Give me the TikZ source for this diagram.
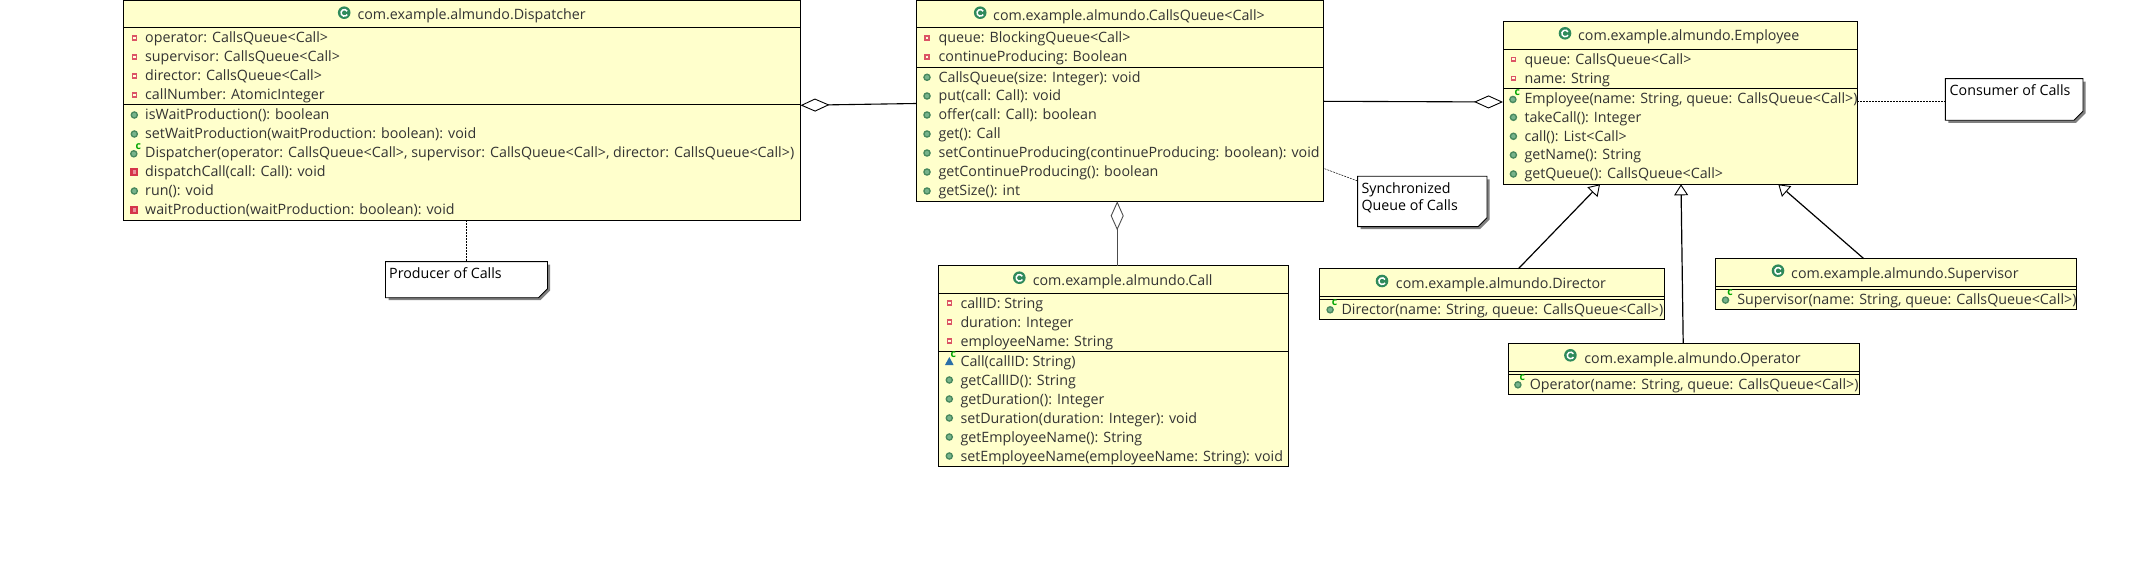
\documentclass[tikz,border=0pt]{standalone}
\usepackage{fontspec}
\usetikzlibrary{arrows.meta}
\setmainfont{Open Sans}
\definecolor{boxfill}{HTML}{FFFFCC}
\definecolor{txt}{HTML}{333333}
\definecolor{pubgreen}{HTML}{55A06E}
\definecolor{classgreen}{HTML}{2F8A5B}
\definecolor{privred}{HTML}{D5364A}
\definecolor{pkgblue}{HTML}{2A6FA8}
\newcommand\fs{\fontsize{14.25}{17}\selectfont}
\newcounter{tn}
\tikzset{
  x=1pt,y=-1pt,
  classbox/.style={draw=black,fill=boxfill,line width=1pt,anchor=north west,inner sep=0pt,outer sep=0pt},
  notebox/.style={anchor=north west,inner sep=0pt,outer sep=0pt},
  rowtext/.style={anchor=base west,inner sep=0pt,text=txt,font=\fs,yshift=-5pt},
  titletext/.style={anchor=base,inner sep=0pt,text=txt,font=\fs,yshift=-5pt},
  notetext/.style={anchor=base west,inner sep=0pt,text=black,font=\fs,yshift=-5pt},
  sep/.style={draw=black,line width=1pt},
  aggr/.style={draw=black,line width=1.1pt,{Diamond[open,fill=white,length=29pt,width=13pt,line width=.9pt]}-},
  aggrv/.style={draw=black!70,line width=1pt,{Diamond[open,fill=white,length=29pt,width=13pt,line width=.9pt]}-},
  inherit/.style={draw=black,line width=1.2pt,-{Triangle[open,fill=white,length=11pt,width=14pt,line width=.9pt]}},
  notelink/.style={draw=black,line width=.5pt,dash pattern=on 2pt off 1pt},
}
% name, x1,y1,x2,y2
\newcommand\UmlBox[5]{%
  \pgfmathsetmacro\bw{#4-#2}\pgfmathsetmacro\bh{#5-#3}%
  \node[classbox,minimum width=\bw pt,minimum height=\bh pt] (#1) at (#2,#3) {};}
\newcommand\NoteBox[5]{%
  \pgfmathsetmacro\bw{#4-#2}\pgfmathsetmacro\bh{#5-#3}%
  \fill[black!50] (#2+3,#3+3) -- (#4+2.5,#3+3) -- (#4+2.5,#5-7) -- (#4-7,#5+2.5) -- (#2+3,#5+2.5) -- cycle;
  \draw[fill=white,line width=.9pt] (#2,#3) -- (#4,#3) -- (#4,#5-9) -- (#4-9,#5) -- (#2,#5) -- cycle;
  \node[notebox,minimum width=\bw pt,minimum height=\bh pt] (#1) at (#2,#3) {};}
\newcommand\TextAt[4][rowtext]{\stepcounter{tn}\node[#1] (t\arabic{tn}) at (#2,#3) {#4};}
% icon x, text x, y, text
\newcommand\FieldRow[4]{%
  \fill[privred!85] (#1-2.6,#3-2.6) rectangle (#1+2.6,#3+2.6);
  \fill[boxfill!70!white] (#1-1.2,#3-1.2) rectangle (#1+1.2,#3+1.2);
  \TextAt{#2}{#3}{#4}}
\newcommand\PubRow[4]{%
  \fill[pubgreen!85!black] (#1,#3) circle[radius=3.8pt];
  \fill[pubgreen!80!white] (#1,#3) circle[radius=2.2pt];
  \TextAt{#2}{#3}{#4}}
\newcommand\PrivRow[4]{%
  \fill[privred] (#1-4,#3-4) rectangle (#1+4,#3+4);
  \fill[privred!55!white] (#1-1.8,#3-1.8) rectangle (#1+1.8,#3+1.8);
  \TextAt{#2}{#3}{#4}}
\newcommand\CtorMark[2]{\stepcounter{tn}\node[inner sep=0pt,text=green!65!black,font=\fontsize{10.5}{10.5}\selectfont\bfseries] (t\arabic{tn}) at (#1+4,#2-6.5) {c};}
\newcommand\CtorRow[4]{%
  \fill[pubgreen!85!black] (#1-.5,#3+.8) circle[radius=3.8pt];
  \fill[pubgreen!80!white] (#1-.5,#3+.8) circle[radius=2.2pt];
  \CtorMark{#1}{#3}
  \TextAt{#2}{#3}{#4}}
\newcommand\PkgRow[4]{%
  \fill[pkgblue] (#1-4.3,#3+4) -- (#1+4.3,#3+4) -- (#1,#3-4) -- cycle;
  \CtorMark{#1}{#3}
  \TextAt{#2}{#3}{#4}}
% icon x, icon y, text centre x, text y, text
\newcommand\ClassTitle[5]{%
  \fill[classgreen] (#1,#2) circle[radius=6.3pt];
  \begin{scope}[shift={(#1,#2)},x=1pt,y=1pt]
    \draw[white,line width=1.5pt] (3,1.5) arc[start angle=30,end angle=330,radius=3.3pt];
  \end{scope}
  \TextAt[titletext]{#3}{#4}{#5}}
\begin{document}
\begin{tikzpicture}
\useasboundingbox (0,0) rectangle (2135,577);
\fill[white] (0,0) rectangle (2135,577);

% ---------- Dispatcher
\UmlBox{disp}{123.3}{0.5}{800.5}{220.3}
\draw[sep] (123.3,28) -- (800.5,28);
\draw[sep] (123.3,105) -- (800.5,105);
\ClassTitle{344.2}{12.7}{471.6}{15}{com.example.almundo.Dispatcher}
\FieldRow{134.3}{145}{38}{operator: CallsQueue<Call>}
\FieldRow{134.3}{145}{57}{supervisor: CallsQueue<Call>}
\FieldRow{134.3}{145}{76}{director: CallsQueue<Call>}
\FieldRow{134.3}{145}{95}{callNumber: AtomicInteger}
\PubRow{134.3}{145}{115}{isWaitProduction(): boolean}
\PubRow{134.3}{145}{134}{setWaitProduction(waitProduction: boolean): void}
\CtorRow{134.3}{145}{153}{Dispatcher(operator: CallsQueue<Call>, supervisor: CallsQueue<Call>, director: CallsQueue<Call>)}
\PrivRow{134.3}{145}{172}{dispatchCall(call: Call): void}
\PubRow{134.3}{145}{191}{run(): void}
\PrivRow{134.3}{145}{210}{waitProduction(waitProduction: boolean): void}

% ---------- CallsQueue
\UmlBox{cq}{916.4}{0.5}{1323.6}{201.3}
\draw[sep] (916.4,28) -- (1323.6,28);
\draw[sep] (916.4,67.3) -- (1323.6,67.3);
\ClassTitle{980.2}{12.7}{1129}{15.3}{com.example.almundo.CallsQueue<Call>}
\FieldRow{927}{938.4}{38}{queue: BlockingQueue<Call>}
\FieldRow{927}{938.4}{57}{continueProducing: Boolean}
\PubRow{927}{938.4}{77.3}{CallsQueue(size: Integer): void}
\PubRow{927}{938.4}{96}{put(call: Call): void}
\PubRow{927}{938.4}{115}{offer(call: Call): boolean}
\PubRow{927}{938.4}{134}{get(): Call}
\PubRow{927}{938.4}{153}{setContinueProducing(continueProducing: boolean): void}
\PubRow{927}{938.4}{172}{getContinueProducing(): boolean}
\PubRow{927}{938.4}{191}{getSize(): int}

% ---------- Employee
\UmlBox{emp}{1503}{21.7}{1857}{184.3}
\draw[sep] (1503,49.7) -- (1857,49.7);
\draw[sep] (1503,88.3) -- (1857,88.3);
\ClassTitle{1565}{33.3}{1688.8}{36}{com.example.almundo.Employee}
\FieldRow{1513.4}{1524.3}{59.3}{queue: CallsQueue<Call>}
\FieldRow{1513.4}{1524.3}{78.3}{name: String}
\CtorRow{1513.4}{1524.3}{98.7}{Employee(name: String, queue: CallsQueue<Call>)}
\PubRow{1513.4}{1524.3}{117.3}{takeCall(): Integer}
\PubRow{1513.4}{1524.3}{136.3}{call(): List<Call>}
\PubRow{1513.4}{1524.3}{155}{getName(): String}
\PubRow{1513.4}{1524.3}{174}{getQueue(): CallsQueue<Call>}

% ---------- Call
\UmlBox{call}{938.3}{265.7}{1288.3}{466}
\draw[sep] (938.3,293.3) -- (1288.3,293.3);
\draw[sep] (938.3,351.3) -- (1288.3,351.3);
\ClassTitle{1019.3}{277.7}{1122.7}{280}{com.example.almundo.Call}
\FieldRow{949.3}{960.3}{303}{callID: String}
\FieldRow{949.3}{960.3}{322}{duration: Integer}
\FieldRow{949.3}{960.3}{341}{employeeName: String}
\PkgRow{949.3}{960.3}{361}{Call(callID: String)}
\PubRow{949.3}{960.3}{380}{getCallID(): String}
\PubRow{949.3}{960.3}{399}{getDuration(): Integer}
\PubRow{949.3}{960.3}{418}{setDuration(duration: Integer): void}
\PubRow{949.3}{960.3}{437}{getEmployeeName(): String}
\PubRow{949.3}{960.3}{456}{setEmployeeName(employeeName: String): void}

% ---------- Director
\UmlBox{dir}{1319.4}{268.7}{1664.3}{319}
\draw[sep] (1319.4,296.7) -- (1664.3,296.7);
\draw[sep] (1319.4,299.3) -- (1664.3,299.3);
\ClassTitle{1382}{281}{1501}{283.3}{com.example.almundo.Director}
\CtorRow{1330.6}{1341.3}{309}{Director(name: String, queue: CallsQueue<Call>)}

% ---------- Operator
\UmlBox{op}{1508.2}{343.7}{1859.2}{394}
\draw[sep] (1508.2,371.7) -- (1859.2,371.7);
\draw[sep] (1508.2,374.3) -- (1859.2,374.3);
\ClassTitle{1570.4}{355.3}{1692.6}{358.3}{com.example.almundo.Operator}
\CtorRow{1518.4}{1529.6}{384}{Operator(name: String, queue: CallsQueue<Call>)}

% ---------- Supervisor
\UmlBox{sup1}{1715.3}{258.7}{2076.5}{309.3}
\draw[sep] (1715.3,286.7) -- (2076.5,286.7);
\draw[sep] (1715.3,289.3) -- (2076.5,289.3);
\ClassTitle{1778}{270.7}{1904.9}{273.3}{com.example.almundo.Supervisor}
\CtorRow{1726}{1737.2}{299.3}{Supervisor(name: String, queue: CallsQueue<Call>)}

% ---------- Notes
\NoteBox{nprod}{385.5}{261.7}{547.5}{297.7}
\TextAt[notetext]{389}{274}{Producer of Calls}
\NoteBox{nsync}{1357.6}{176.3}{1487}{226.7}
\TextAt[notetext]{1361.3}{189}{Synchronized}
\TextAt[notetext]{1361.3}{205.7}{Queue of Calls}
\NoteBox{ncons}{1945.3}{78.7}{2083}{120.3}
\TextAt[notetext]{1949.5}{91}{Consumer of Calls}

% ---------- Connector anchors
\coordinate (ya) at (0,105.3);
\coordinate (yb) at (0,103.5);
\coordinate (yc) at (0,102);
\coordinate (yd) at (0,101.3);
\coordinate (xv) at (1117.2,0);
\coordinate (xnp) at (465.8,0);
\coordinate (xdirS) at (1518.4,0);
\coordinate (xdirT) at (1600,0);
\coordinate (xopS) at (1683.2,0);
\coordinate (xopT) at (1681,0);
\coordinate (xsupS) at (1863.8,0);
\coordinate (xsupT) at (1778.3,0);
\coordinate (sync1) at (1324.5,168.7);
\coordinate (sync2) at (1357.6,181);

% ---------- Connectors
\draw[aggr] (disp.east |- ya) -- (cq.west |- yb);
\draw[aggr] (emp.west |- yc) -- (cq.east |- yd);
\draw[aggrv] (cq.south -| xv) -- (call.north -| xv);
\draw[inherit] (dir.north -| xdirS) -- (emp.south -| xdirT);
\draw[inherit] (op.north -| xopS) -- (emp.south -| xopT);
\draw[inherit] (sup1.north -| xsupS) -- (emp.south -| xsupT);
\draw[notelink] (disp.south -| xnp) -- (nprod.north -| xnp);
\draw[notelink] (sync1) -- (sync2);
\draw[notelink] (emp.east |- yd) -- (ncons.west |- yd);
\end{tikzpicture}
\end{document}
